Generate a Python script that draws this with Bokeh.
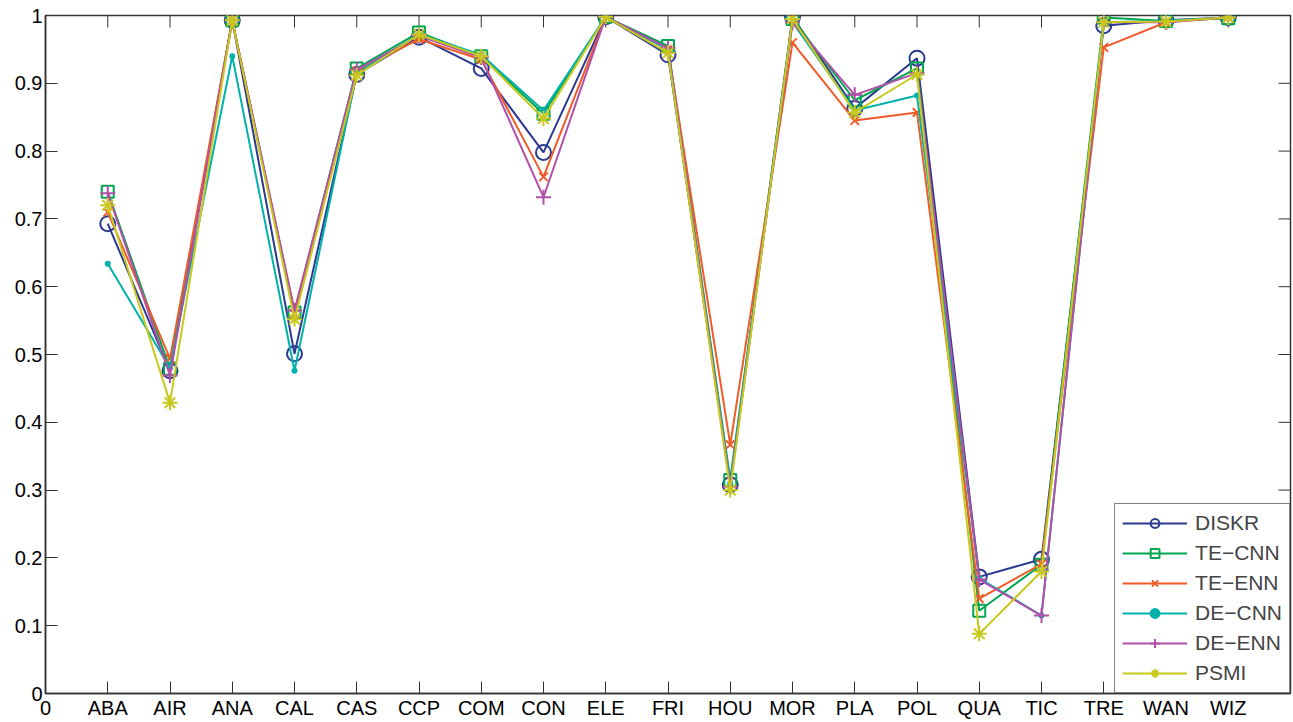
import math
from bokeh.plotting import figure
from bokeh.models import FixedTicker, Legend, LegendItem, Range1d
from bokeh.embed import file_html
from bokeh.resources import INLINE

categories = ["ABA", "AIR", "ANA", "CAL", "CAS", "CCP", "COM", "CON", "ELE", "FRI",
              "HOU", "MOR", "PLA", "POL", "QUA", "TIC", "TRE", "WAN", "WIZ"]
diskr  = [0.693, 0.476, 0.993, 0.501, 0.913, 0.968, 0.922, 0.798, 0.998, 0.942,
          0.308, 0.998, 0.863, 0.937, 0.172, 0.198, 0.985, 0.993, 0.997]
te_cnn = [0.740, 0.479, 0.993, 0.562, 0.922, 0.975, 0.940, 0.855, 0.998, 0.955,
          0.315, 0.995, 0.875, 0.922, 0.122, 0.190, 0.997, 0.992, 0.996]
te_enn = [0.710, 0.494, 0.993, 0.560, 0.918, 0.965, 0.935, 0.762, 0.998, 0.950,
          0.367, 0.960, 0.845, 0.857, 0.140, 0.191, 0.953, 0.990, 0.997]
de_cnn = [0.634, 0.480, 0.940, 0.476, 0.915, 0.972, 0.942, 0.860, 0.998, 0.950,
          0.310, 0.990, 0.860, 0.882, 0.170, 0.115, 0.990, 0.992, 0.997]
de_enn = [0.738, 0.469, 0.993, 0.565, 0.920, 0.970, 0.938, 0.732, 0.998, 0.952,
          0.305, 0.990, 0.883, 0.915, 0.168, 0.115, 0.990, 0.990, 0.997]
psmi   = [0.720, 0.429, 0.993, 0.552, 0.912, 0.972, 0.940, 0.848, 0.998, 0.945,
          0.300, 0.995, 0.857, 0.913, 0.088, 0.180, 0.990, 0.991, 0.997]
y_ticks = [0, 0.1, 0.2, 0.3, 0.4, 0.5, 0.6, 0.7, 0.8, 0.9, 1]

series = [
    ("DISKR", diskr, "#2b3990", "circle", 15, False),
    ("TE\u2212CNN", te_cnn, "#00a651", "square", 12, False),
    ("TE\u2212ENN", te_enn, "#f15a29", "x", 12, False),
    ("DE\u2212CNN", de_cnn, "#00b2a9", "circle", 4, True),
    ("DE\u2212ENN", de_enn, "#b24fa8", "cross", 15, False),
    ("PSMI", psmi, "#c8c81e", "asterisk", 15, False),
]

xs = list(range(1, len(categories) + 1))
x_ticks = [0] + xs
X_MAX = 20
FONT = "Liberation Sans"
AX = "#333333"

p = figure(width=1293, height=722, output_backend="svg", toolbar_location=None,
           x_range=Range1d(0, X_MAX), y_range=Range1d(0, 1),
           min_border_left=45, min_border_right=3, min_border_top=15, min_border_bottom=29)
p.xgrid.visible = False
p.ygrid.visible = False
p.outline_line_color = AX
p.outline_line_width = 1.5

p.xaxis.ticker = FixedTicker(ticks=x_ticks)
p.xaxis.major_label_overrides = {0: "0", **{i: c for i, c in zip(xs, categories)}}
p.yaxis.ticker = FixedTicker(ticks=y_ticks)
p.yaxis.major_label_overrides = {0: "0", 1: "1"}

for ax in (p.xaxis[0], p.yaxis[0]):
    ax.major_tick_in = 12
    ax.major_tick_out = 0
    ax.minor_tick_in = 0
    ax.minor_tick_out = 0
    ax.axis_line_color = AX
    ax.axis_line_width = 1.5
    ax.major_tick_line_color = AX
    ax.major_label_text_font = FONT
    ax.major_label_text_font_size = "20px"
    ax.major_label_text_color = "black"
    ax.major_label_standoff = 3

# mirrored ticks on top and right edges (clipped to the frame)
p.scatter(x_ticks, [1] * len(x_ticks), marker="dash", size=24, angle=math.pi / 2,
          line_color=AX, line_width=1)
p.scatter([X_MAX] * len(y_ticks), y_ticks, marker="dash", size=24,
          line_color=AX, line_width=1)

items = []
for name, vals, color, marker, size, filled in series:
    ln = p.line(xs, vals, line_color=color, line_width=2)
    sc = p.scatter(xs, vals, marker=marker, size=size, line_color=color, line_width=2,
                   fill_color=color if filled else None)
    items.append(LegendItem(label=name, renderers=[ln, sc]))

legend = Legend(items=items, location="bottom_right", border_line_color="black",
                border_line_width=1.5, label_text_font=FONT, label_text_font_size="21px",
                glyph_width=65, glyph_height=22, label_height=22, spacing=6, padding=7,
                margin=0, label_standoff=8, background_fill_alpha=1)
p.add_layout(legend)

open("out.html", "w").write(file_html(p, INLINE))
